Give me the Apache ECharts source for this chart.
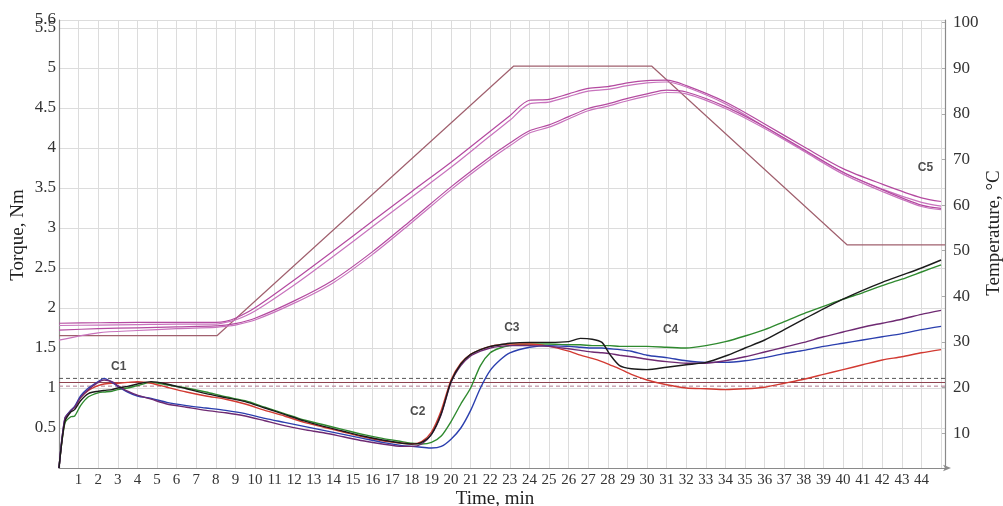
<!DOCTYPE html>
<html>
<head>
<meta charset="utf-8">
<script src="https://cdn.jsdelivr.net/npm/echarts@6/dist/echarts.min.js"></script>
<style>
html,body{margin:0;padding:0;background:#fff;}
#chart{width:1003px;height:506px;}
</style>
</head>
<body>
<div id="chart"></div>
<script>
// ---- data ----
const time = [0,0.3,0.6,0.8,1.1,1.5,2,2.3,2.7,3,3.5,4,4.7,5.5,6.5,7.5,8.5,9.5,10.5,11.5,12.5,13.5,14.5,15.5,16.5,17.5,18,18.5,19,19.5,20,20.5,21,21.5,22,22.5,23,24,25,26,26.6,27.2,27.7,28.1,28.6,29.2,30,31,32,33,34,35,36,37,38,39,40,41,42,43,44,45];

const torqueBlack = [0,0.58,0.7,0.73,0.84,0.93,0.96,0.97,0.98,1.0,1.02,1.05,1.08,1.05,0.99,0.93,0.88,0.83,0.75,0.67,0.59,0.52,0.46,0.4,0.35,0.31,0.3,0.32,0.42,0.68,1.08,1.3,1.42,1.48,1.52,1.54,1.56,1.57,1.57,1.58,1.62,1.61,1.57,1.42,1.28,1.24,1.23,1.26,1.29,1.32,1.4,1.5,1.6,1.73,1.86,1.99,2.11,2.22,2.32,2.41,2.5,2.6];
const torqueGreen = [0,0.56,0.64,0.65,0.78,0.89,0.94,0.95,0.96,0.98,1.0,1.03,1.07,1.04,1.0,0.95,0.89,0.84,0.76,0.68,0.6,0.54,0.48,0.42,0.37,0.33,0.31,0.3,0.32,0.4,0.58,0.8,1.0,1.28,1.44,1.5,1.53,1.55,1.55,1.54,1.54,1.53,1.53,1.53,1.52,1.52,1.52,1.51,1.5,1.53,1.58,1.65,1.73,1.83,1.93,2.02,2.11,2.19,2.28,2.36,2.45,2.54];
const torqueRed = [0,0.6,0.72,0.76,0.88,0.97,1.03,1.05,1.06,1.06,1.07,1.08,1.06,1.01,0.95,0.9,0.86,0.8,0.72,0.65,0.57,0.51,0.45,0.39,0.34,0.31,0.3,0.33,0.45,0.72,1.1,1.31,1.42,1.48,1.52,1.54,1.55,1.55,1.52,1.46,1.41,1.37,1.33,1.29,1.24,1.17,1.1,1.04,1.0,0.99,0.98,0.99,1.01,1.06,1.11,1.17,1.23,1.29,1.35,1.39,1.44,1.48];
const torqueBlue = [0,0.62,0.72,0.77,0.9,1.0,1.08,1.12,1.07,1.02,0.95,0.9,0.87,0.82,0.78,0.75,0.72,0.68,0.62,0.57,0.52,0.47,0.42,0.37,0.32,0.28,0.27,0.26,0.25,0.27,0.36,0.5,0.72,1.0,1.22,1.35,1.44,1.51,1.53,1.52,1.51,1.5,1.5,1.49,1.48,1.46,1.41,1.38,1.34,1.32,1.32,1.34,1.38,1.43,1.47,1.52,1.56,1.6,1.64,1.68,1.73,1.77];
const torquePurple = [0,0.62,0.71,0.76,0.88,0.98,1.07,1.1,1.08,1.03,0.96,0.91,0.86,0.8,0.76,0.72,0.69,0.65,0.59,0.53,0.48,0.44,0.39,0.34,0.3,0.27,0.27,0.3,0.42,0.67,1.07,1.28,1.4,1.46,1.5,1.52,1.53,1.53,1.52,1.49,1.47,1.45,1.44,1.43,1.41,1.39,1.36,1.33,1.31,1.31,1.34,1.39,1.45,1.51,1.57,1.64,1.7,1.76,1.81,1.86,1.92,1.97];

const tempTime = [0,2,4,6,8,8.5,9,10,12,14,16,18,20,22,23,24,25,26,27,28,29,30,31,32,34,36,38,40,42,44,45];
const temp1 = [34.1,34.2,34.3,34.3,34.3,34.5,35.2,37.5,43.6,50.0,56.5,63.0,69.4,76.2,79.6,83.0,83.2,84.4,85.6,86.0,86.8,87.3,87.4,86.2,82.6,77.8,72.8,68.0,64.6,61.6,60.8];
const temp2 = [33.6,33.7,33.8,33.9,33.9,34.3,34.8,36.8,42.5,48.8,55.3,61.8,68.3,75.2,78.6,82.2,82.6,83.8,85.0,85.4,86.2,86.8,87.0,85.9,82.2,77.2,72.0,67.2,63.5,60.6,59.8];
const temp3 = [32.6,32.9,33.1,33.3,33.5,33.7,34.0,35.2,39.0,43.6,49.8,56.8,64.0,70.6,73.6,76.3,77.6,79.4,81.2,82.2,83.4,84.4,85.2,84.8,81.6,77.2,72.2,67.2,63.4,60.0,59.3];
const temp4 = [30.4,32.0,32.5,32.9,33.2,33.4,33.7,34.8,38.5,43.0,49.2,56.2,63.4,70.0,73.0,75.8,77.1,78.9,80.7,81.7,82.9,83.9,84.7,84.4,81.2,76.8,71.8,66.8,63.0,59.7,59.0];

const setTime = [0,8.07,23.2,30.23,40.2,45.2];
const setTemp = [31.4,31.4,90.5,90.5,51.3,51.3];

const refTemps = [22.0,21.1,20.3];

const torqueTicks = [0.5,1,1.5,2,2.5,3,3.5,4,4.5,5,5.5];
const torqueTopTick = [5.6];
const tempTicks = [10,20,30,40,50,60,70,80,90,100];
const timeTicks = [1,2,3,4,5,6,7,8,9,10,11,12,13,14,15,16,17,18,19,20,21,22,23,24,25,26,27,28,29,30,31,32,33,34,35,36,37,38,39,40,41,42,43,44];

const notes = [
  {name:'C1', t:3.05, v:1.265},
  {name:'C2', t:18.3, v:0.705},
  {name:'C3', t:23.1, v:1.76},
  {name:'C4', t:31.2, v:1.725},
  {name:'C5', t:44.2, v:3.75}
];

// ---- build ----
const zip = (xs, ys) => xs.map((x, i) => [x, ys[i]]);
const serif = 'Liberation Serif';

function torqueSeries(name, data, color) {
  return {name, type:'line', data: zip(time, data), yAxisIndex:0, showSymbol:false,
    smooth:0.25, lineStyle:{color, width:1.4}, z:5};
}
function tempSeries(name, data, color) {
  return {name, type:'line', data: zip(tempTime, data), yAxisIndex:1, showSymbol:false,
    smooth:0.3, lineStyle:{color, width:1.2}, z:4};
}
const refStyles = [
  {color:'#555555', type:[4,3]},
  {color:'#8e4450', type:'solid'},
  {color:'#b07a90', type:[4,3]}
];

const series = [
  {name:'setpoint', type:'line', data: zip(setTime, setTemp), yAxisIndex:1, showSymbol:false,
   lineStyle:{color:'#a0606e', width:1.2}, z:3},
  ...refTemps.map((v, i) => ({name:'ref'+i, type:'line', yAxisIndex:1, showSymbol:false,
    data:[[0, v],[45.2, v]], lineStyle:{color:refStyles[i].color, type:refStyles[i].type, width:1}, z:3})),
  tempSeries('T1', temp1, '#b44aa0'),
  tempSeries('T2', temp2, '#c873bd'),
  tempSeries('T3', temp3, '#b44aa0'),
  tempSeries('T4', temp4, '#c873bd'),
  torqueSeries('green', torqueGreen, '#2f8a2f'),
  torqueSeries('red', torqueRed, '#d23a32'),
  torqueSeries('blue', torqueBlue, '#2b3fae'),
  torqueSeries('purple', torquePurple, '#6e2a72'),
  torqueSeries('black', torqueBlack, '#1b1b1b'),
  {name:'notes', type:'scatter', yAxisIndex:0, symbolSize:0, z:10,
   data: notes.map(n => ({name:n.name, value:[n.t, n.v]})),
   label:{show:true, position:'inside', formatter:p => p.name,
     fontFamily:'Liberation Sans', fontWeight:'bold', fontSize:12, color:'#222'}}
];

const chart = echarts.init(document.getElementById('chart'), null, {renderer:'canvas'});
chart.setOption({
  animation:false,
  backgroundColor:'#ffffff',
  grid:{left:59, right:58, top:20, bottom:38, containLabel:false, outerBoundsMode:'none'},
  xAxis:{
    type:'value', min:0, max:45.2, interval:1,
    name:'Time, min', nameLocation:'middle', nameGap:22, nameMoveOverlap:false,
    nameTextStyle:{fontFamily:serif, fontSize:19, color:'#222', padding:[0,14,0,0]},
    axisLine:{show:true, lineStyle:{color:'#8a8a8a', width:1.2}, symbol:['none','arrow'], symbolSize:[5,8], symbolOffset:[0,6]},
    axisTick:{show:false},
    axisLabel:{customValues: timeTicks, fontFamily:serif, fontSize:15, color:'#333', margin:5},
    splitLine:{show:true, lineStyle:{color:'#dcdcdc', width:1}}
  },
  yAxis:[
    {
      type:'value', min:0, max:5.6, interval:0.5, position:'left',
      name:'Torque, Nm', nameLocation:'middle', nameGap:31, nameRotate:90, nameMoveOverlap:false,
      nameTextStyle:{fontFamily:serif, fontSize:19, color:'#222', padding:[0,0,0,18]},
      axisLine:{show:true, lineStyle:{color:'#8a8a8a', width:1.2}},
      axisTick:{show:false},
      axisLabel:{customValues: torqueTicks, fontFamily:serif, fontSize:17, color:'#333', margin:3},
      splitLine:{show:true, lineStyle:{color:'#dcdcdc', width:1}}
    },
    {
      type:'value', min:2.35, max:100.6, position:'right',
      name:'Temperature, °C', nameLocation:'middle', nameGap:40, nameRotate:90, nameMoveOverlap:false,
      nameTextStyle:{fontFamily:serif, fontSize:19, color:'#222', padding:[0,0,0,22]},
      axisLine:{show:true, lineStyle:{color:'#8a8a8a', width:1.2}},
      axisTick:{show:true, customValues: tempTicks, inside:true, length:3, lineStyle:{color:'#aaa'}},
      axisLabel:{customValues: tempTicks, fontFamily:serif, fontSize:17, color:'#333', margin:8},
      splitLine:{show:false}
    },
    {
      type:'value', min:0, max:5.6, position:'left', offset:0,
      axisLine:{show:false}, axisTick:{show:false}, splitLine:{show:false},
      axisLabel:{customValues: torqueTopTick, fontFamily:serif, fontSize:17, color:'#333', margin:3}
    }
  ],
  series
});
</script>
</body>
</html>
